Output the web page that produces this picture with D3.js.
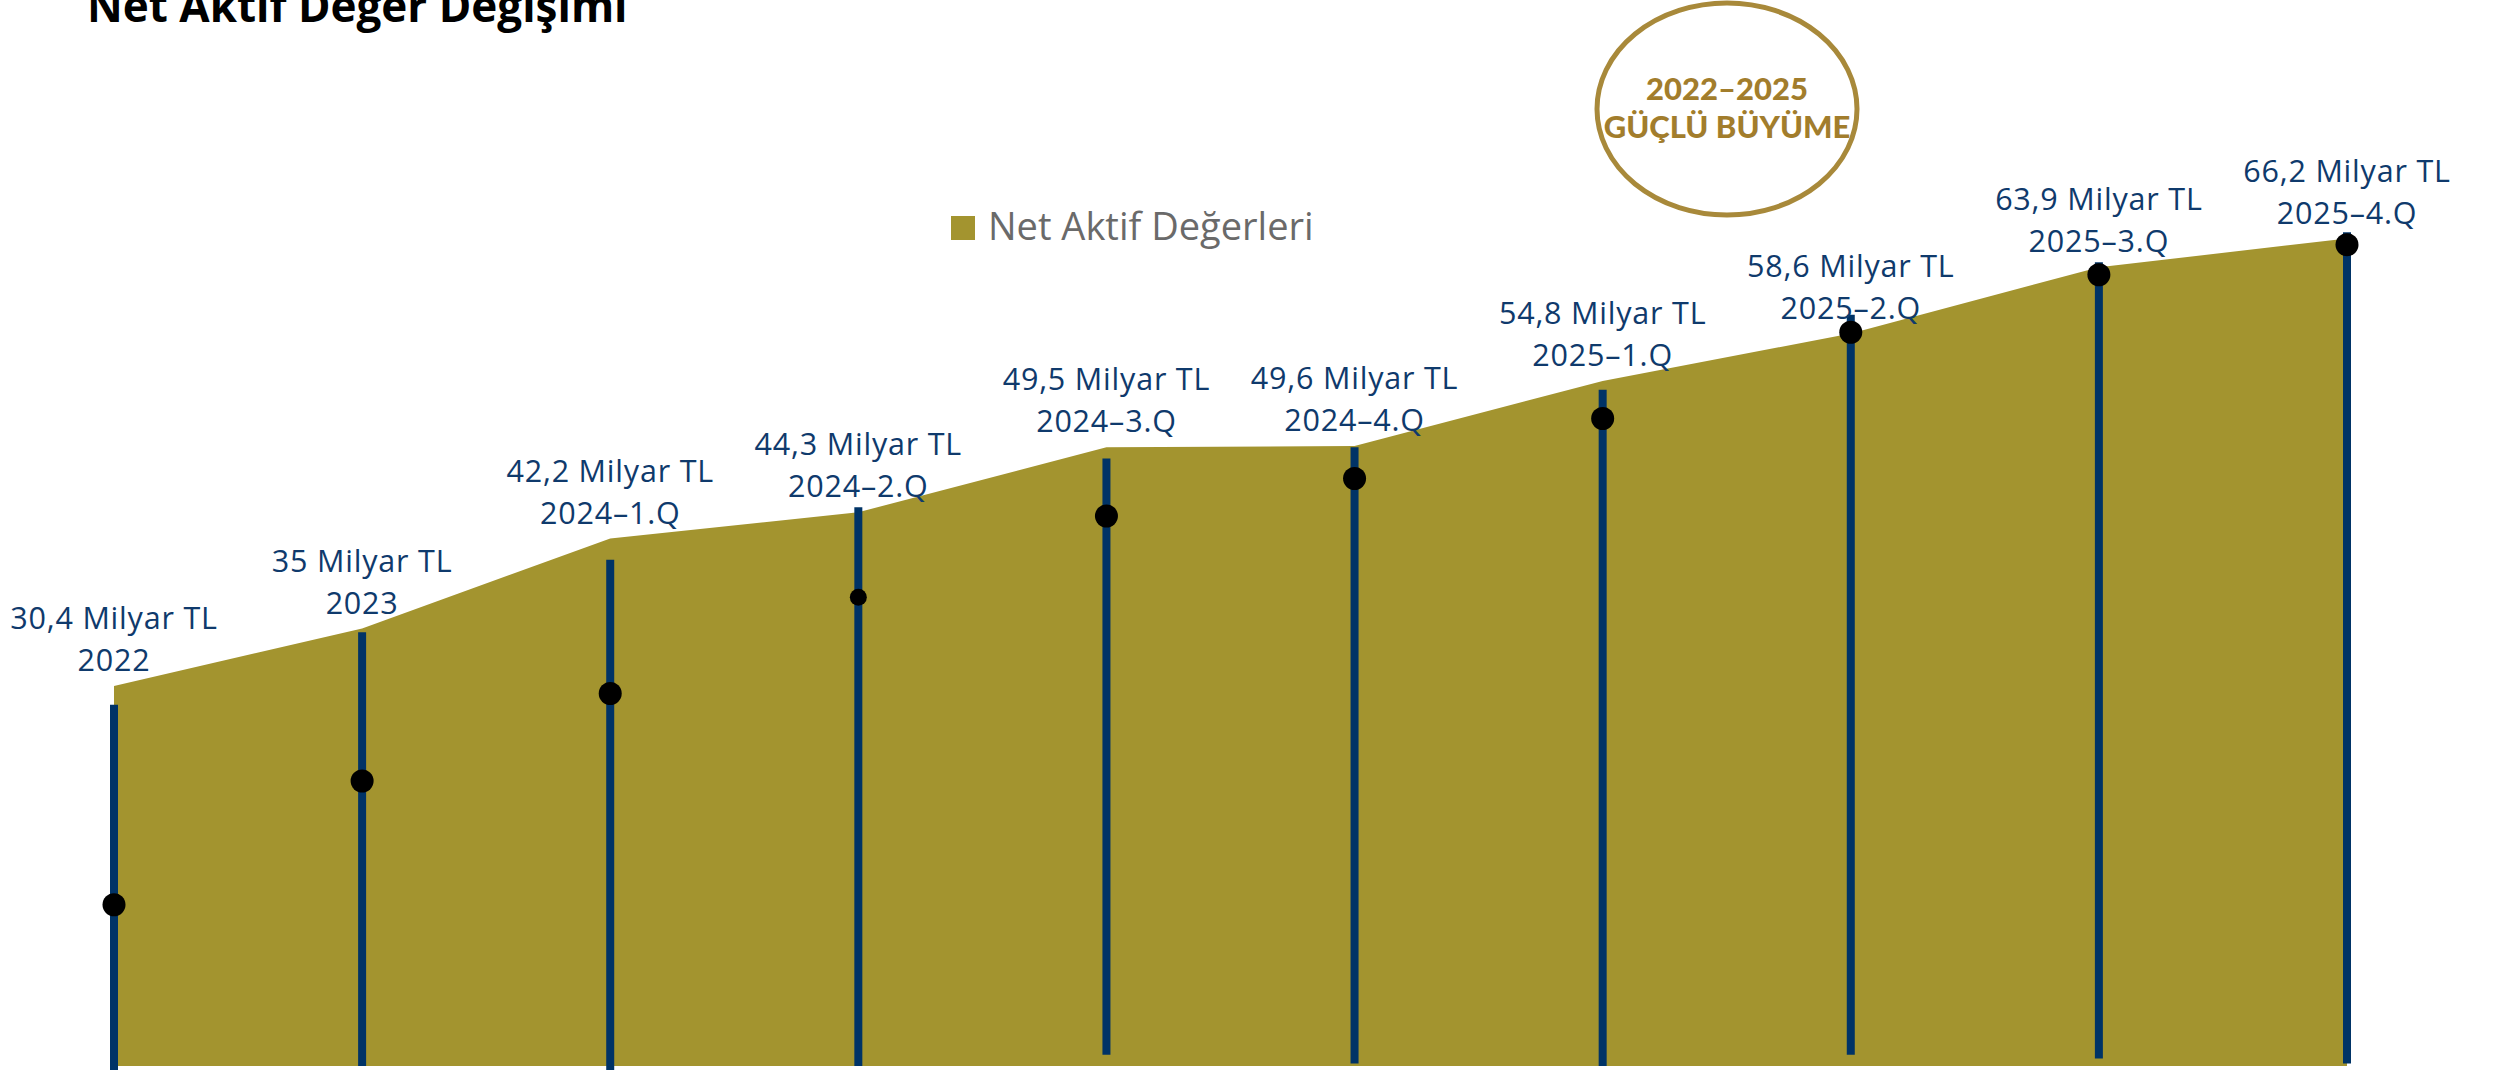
<!DOCTYPE html>
<html lang="tr">
<head>
<meta charset="utf-8">
<title>Net Aktif Değer Değişimi</title>
<script src="https://cdn.jsdelivr.net/npm/d3@7"></script>
<style>
  html, body { margin: 0; padding: 0; background: #ffffff; }
  svg { display: block; }
</style>
</head>
<body>
<svg id="chart" width="2494" height="1070"></svg>
<script>
// Periods shown along the growth area
const periods = ["2022", "2023", "2024–1.Q", "2024–2.Q", "2024–3.Q", "2024–4.Q",
                 "2025–1.Q", "2025–2.Q", "2025–3.Q", "2025–4.Q"];
// Net asset value, billion TL
const netAssetValue = [30.4, 35, 42.2, 44.3, 49.5, 49.6, 54.8, 58.6, 63.9, 66.2];
// Value captions (Turkish decimal comma)
const valueLabels = ["30,4 Milyar TL", "35 Milyar TL", "42,2 Milyar TL", "44,3 Milyar TL",
                     "49,5 Milyar TL", "49,6 Milyar TL", "54,8 Milyar TL", "58,6 Milyar TL",
                     "63,9 Milyar TL", "66,2 Milyar TL"];
// Decorative stems and markers, in the same value units
const stemTop = [28.9, 34.7, 40.5, 44.7, 48.6, 49.5, 54.1, 60.1, 64.3, 66.7];
const stemBase = [-0.4, 0, -0.4, 0, 0.9, 0.2, 0, 0.9, 0.6, 0.2];
const markerValue = [12.9, 22.8, 29.8, 37.5, 44.0, 47.0, 51.8, 58.7, 63.3, 65.7];
const markerSize = ["l", "l", "l", "s", "l", "l", "l", "l", "l", "l"];

const seriesName = "Net Aktif Değerleri";
const chartTitle = "Net Aktif Değer Değişimi";
const badgeLines = ["2022–2025", "GÜÇLÜ BÜYÜME"];

const AREA = "#a3942f";
const NAVY = "#003366";
const LABEL = "#0f3a6c";
const GOLD = "#a8893a";
const GOLD_TEXT = "#a27d2c";

const svg = d3.select("#chart");

const x = d3.scalePoint().domain(periods).range([114, 2347]);
const y = d3.scaleLinear().domain([0, 66.2]).range([1066, 238.5]);

const rows = periods.map((p, i) => ({
  period: p, value: netAssetValue[i], label: valueLabels[i],
  top: stemTop[i], base: stemBase[i], marker: markerValue[i], size: markerSize[i]
}));

// Growth area
const area = d3.area()
  .x(d => x(d.period))
  .y0(y(0))
  .y1(d => y(d.value))
  .curve(d3.curveLinear);

svg.append("path")
  .datum(rows)
  .attr("d", area)
  .attr("fill", AREA);

// Vertical stems
svg.append("g")
  .selectAll("line")
  .data(rows)
  .join("line")
  .attr("x1", d => x(d.period))
  .attr("x2", d => x(d.period))
  .attr("y1", d => y(d.top))
  .attr("y2", d => y(d.base))
  .attr("stroke", NAVY)
  .attr("stroke-width", 8);

// Markers on stems
svg.append("g")
  .selectAll("circle")
  .data(rows)
  .join("circle")
  .attr("cx", d => x(d.period))
  .attr("cy", d => y(d.marker))
  .attr("r", d => d.size === "s" ? 8.5 : 11.5)
  .attr("fill", "#000000");

// Two-line captions above each point (value, then period)
const captions = svg.append("g")
  .attr("font-family", "'Open Sans', sans-serif")
  .attr("font-size", 30.5)
  .attr("letter-spacing", 0.8)
  .attr("fill", LABEL)
  .attr("text-anchor", "middle");

rows.forEach(d => {
  const cx = x(d.period);
  const base = y(d.value) - 15;
  captions.append("text")
    .attr("x", cx).attr("y", base - 42)
    .text(d.label);
  captions.append("text")
    .attr("x", cx).attr("y", base)
    .text(d.period);
});

// Title (runs off the top edge)
svg.append("text")
  .attr("x", 87).attr("y", 22)
  .attr("font-family", "'Open Sans', sans-serif")
  .attr("font-weight", 700)
  .attr("font-size", 44)
  .attr("fill", "#000000")
  .text(chartTitle);

// Legend
const legend = svg.append("g");
legend.append("rect")
  .attr("x", 951).attr("y", 216)
  .attr("width", 24).attr("height", 24)
  .attr("fill", AREA);
legend.append("text")
  .attr("x", 988).attr("y", 240)
  .attr("font-family", "'Open Sans', sans-serif")
  .attr("font-size", 38)
  .attr("fill", "#6a6a6a")
  .text(seriesName);

// Growth badge
const badge = svg.append("g").attr("transform", "translate(1727,109)");
badge.append("ellipse")
  .attr("rx", 130).attr("ry", 106)
  .attr("fill", "none")
  .attr("stroke", GOLD)
  .attr("stroke-width", 5);
badge.selectAll("text")
  .data(badgeLines)
  .join("text")
  .attr("x", 0)
  .attr("y", (d, i) => i === 0 ? -9 : 29)
  .attr("text-anchor", "middle")
  .attr("font-family", "Lato, sans-serif")
  .attr("font-weight", 900)
  .attr("font-size", 31)
  .attr("fill", GOLD_TEXT)
  .text(d => d);
</script>
</body>
</html>
